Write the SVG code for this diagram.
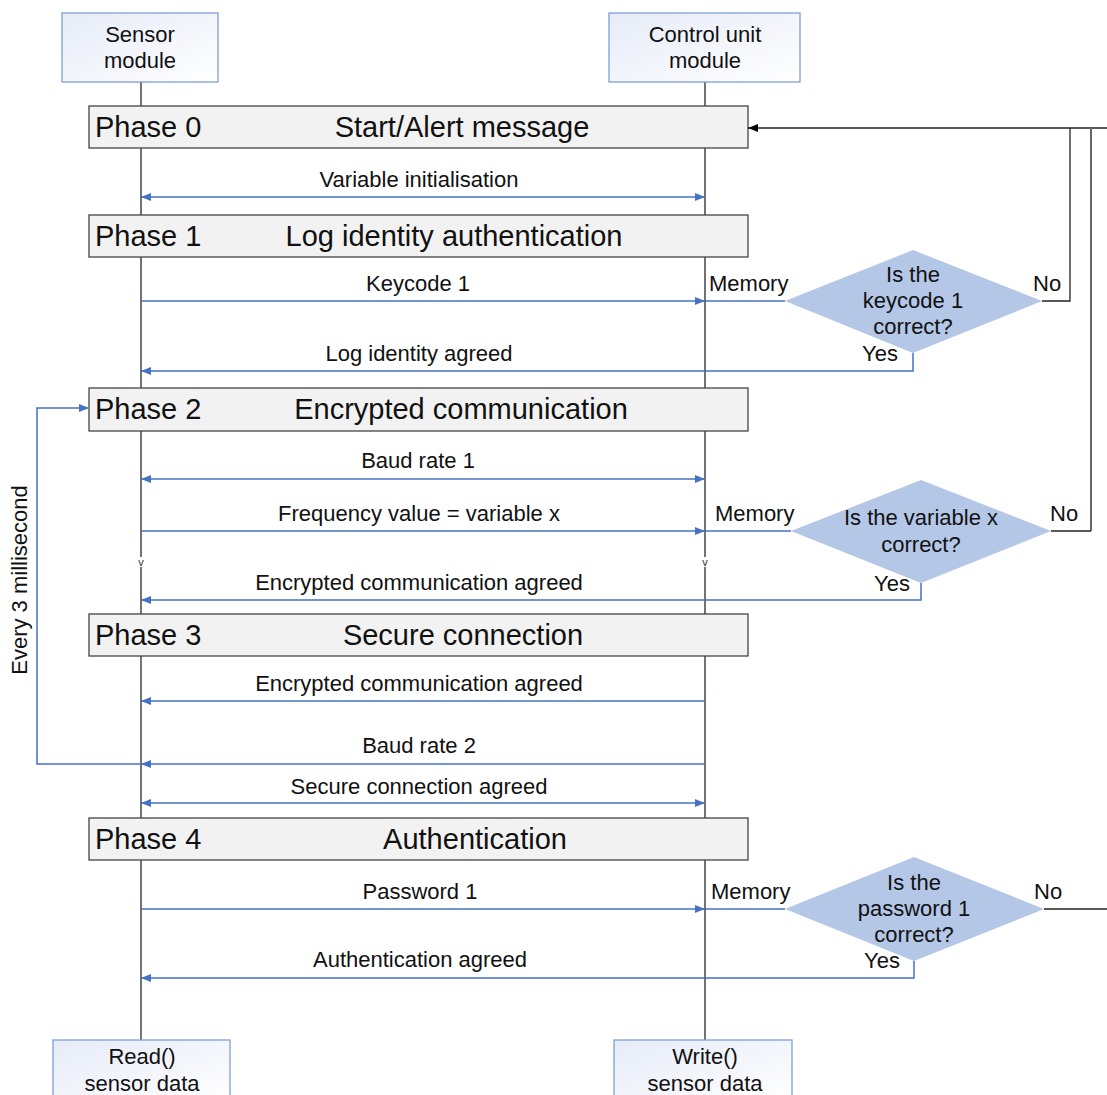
<svg xmlns="http://www.w3.org/2000/svg" width="1107" height="1095" viewBox="0 0 1107 1095">
  <defs>
    <linearGradient id="boxFill" x1="0" y1="0" x2="1" y2="1">
      <stop offset="0" stop-color="#e6ebf7"/>
      <stop offset="1" stop-color="#ffffff"/>
    </linearGradient>
    <marker id="arrBlue" viewBox="0 0 10 10" refX="10" refY="5" markerWidth="10" markerHeight="10" markerUnits="userSpaceOnUse" orient="auto-start-reverse">
      <path d="M0,1 L10,5 L0,9 Z" fill="#4472c4"/>
    </marker>
    <marker id="arrBlack" viewBox="0 0 10 10" refX="10" refY="5" markerWidth="10" markerHeight="10" markerUnits="userSpaceOnUse" orient="auto-start-reverse">
      <path d="M0,1 L10,5 L0,9 Z" fill="#000000"/>
    </marker>
  </defs>
  <style>
    text { font-family: "Liberation Sans", Arial, sans-serif; fill: #111; }
    .lbl { font-size: 22px; text-anchor: middle; }
    .lft { font-size: 22px; }
    .ph { font-size: 29px; }
    .phc { font-size: 29px; text-anchor: middle; }
    .tiny { font-size: 11px; text-anchor: middle; fill: #333; }
    .module { fill: url(#boxFill); stroke: #7f9fd6; stroke-width: 1.3; }
    .phase { fill: #f2f2f2; stroke: #444; stroke-width: 1.3; }
    .life { stroke: #444; stroke-width: 1.5; fill: none; }
    .msg { stroke: #4472c4; stroke-width: 1.5; fill: none; }
    .back { stroke: #222; stroke-width: 1.3; fill: none; }
    .gray { stroke: #666; stroke-width: 2; fill: none; }
    .dia { fill: #b4c7e7; stroke: none; }
  </style>

  <!-- lifelines -->
  <g id="lifelines">
    <line class="life" x1="141" y1="82" x2="141" y2="1040"/>
    <line class="life" x1="705" y1="82" x2="705" y2="1040"/>
  </g>

  <!-- participants -->
  <g id="sensor-module">
    <rect class="module" x="62" y="13" width="156" height="69"/>
    <text class="lbl" x="140" y="42">Sensor</text>
    <text class="lbl" x="140" y="68">module</text>
  </g>
  <g id="control-unit-module">
    <rect class="module" x="609" y="13" width="191" height="69"/>
    <text class="lbl" x="705" y="42">Control unit</text>
    <text class="lbl" x="705" y="68">module</text>
  </g>
  <g id="read-sensor-data">
    <rect class="module" x="53" y="1040" width="177" height="60"/>
    <text class="lbl" x="142" y="1064">Read()</text>
    <text class="lbl" x="142" y="1091">sensor data</text>
  </g>
  <g id="write-sensor-data">
    <rect class="module" x="614" y="1040" width="178" height="60"/>
    <text class="lbl" x="705" y="1064">Write()</text>
    <text class="lbl" x="705" y="1091">sensor data</text>
  </g>

  <!-- phase bars -->
  <g id="phase-0">
    <rect class="phase" x="89" y="106" width="659" height="42"/>
    <text class="ph" x="95" y="137">Phase 0</text>
    <text class="phc" x="462" y="137">Start/Alert message</text>
  </g>
  <g id="phase-1">
    <rect class="phase" x="89" y="215" width="659" height="42"/>
    <text class="ph" x="95" y="246">Phase 1</text>
    <text class="phc" x="454" y="246">Log identity authentication</text>
  </g>
  <g id="phase-2">
    <rect class="phase" x="89" y="388" width="659" height="43"/>
    <text class="ph" x="95" y="419">Phase 2</text>
    <text class="phc" x="461" y="419">Encrypted communication</text>
  </g>
  <g id="phase-3">
    <rect class="phase" x="89" y="614" width="659" height="42"/>
    <text class="ph" x="95" y="645">Phase 3</text>
    <text class="phc" x="463" y="645">Secure connection</text>
  </g>
  <g id="phase-4">
    <rect class="phase" x="89" y="818" width="659" height="42"/>
    <text class="ph" x="95" y="849">Phase 4</text>
    <text class="phc" x="475" y="849">Authentication</text>
  </g>

  <!-- decisions -->
  <g id="check-keycode">
    <polygon class="dia" points="785,301 913,250 1042,301 913,353"/>
    <text class="lbl" x="913" y="282">Is the</text>
    <text class="lbl" x="913" y="308">keycode 1</text>
    <text class="lbl" x="913" y="334">correct?</text>
  </g>
  <g id="check-variable">
    <polygon class="dia" points="791,531 921,480 1051,531 921,583"/>
    <text class="lbl" x="921" y="525">Is the variable x</text>
    <text class="lbl" x="921" y="552">correct?</text>
  </g>
  <g id="check-password">
    <polygon class="dia" points="785,909 914,857 1044,909 914,961"/>
    <text class="lbl" x="914" y="890">Is the</text>
    <text class="lbl" x="914" y="916">password 1</text>
    <text class="lbl" x="914" y="942">correct?</text>
  </g>

  <!-- connectors -->
  <g id="connectors">
    <!-- phase 0 -->
    <line class="msg" x1="141" y1="197" x2="705" y2="197" marker-start="url(#arrBlue)" marker-end="url(#arrBlue)"/>
    <!-- phase 1 -->
    <line class="msg" x1="141" y1="301" x2="705" y2="301" marker-end="url(#arrBlue)"/>
    <line class="msg" x1="705" y1="301" x2="785" y2="301"/>
    <polyline class="msg" points="913,353 913,371 141,371" marker-end="url(#arrBlue)"/>
    <!-- phase 2 -->
    <line class="msg" x1="141" y1="479" x2="705" y2="479" marker-start="url(#arrBlue)" marker-end="url(#arrBlue)"/>
    <line class="msg" x1="141" y1="531" x2="705" y2="531" marker-end="url(#arrBlue)"/>
    <line class="msg" x1="705" y1="531" x2="791" y2="531"/>
    <polyline class="msg" points="921,583 921,600 141,600" marker-end="url(#arrBlue)"/>
    <!-- phase 3 -->
    <line class="msg" x1="705" y1="701" x2="141" y2="701" marker-end="url(#arrBlue)"/>
    <line class="msg" x1="705" y1="764" x2="141" y2="764" marker-end="url(#arrBlue)"/>
    <polyline class="msg" points="141,764 37,764 37,408 89,408" marker-end="url(#arrBlue)"/>
    <line class="msg" x1="141" y1="803" x2="705" y2="803" marker-start="url(#arrBlue)" marker-end="url(#arrBlue)"/>
    <!-- phase 4 -->
    <line class="msg" x1="141" y1="909" x2="705" y2="909" marker-end="url(#arrBlue)"/>
    <line class="msg" x1="705" y1="909" x2="785" y2="909"/>
    <polyline class="msg" points="914,961 914,978 141,978" marker-end="url(#arrBlue)"/>
    <!-- "No" branches back to phase 0 -->
    <line class="back" x1="1107" y1="128" x2="748" y2="128" marker-end="url(#arrBlack)"/>
    <polyline class="back" points="1042,301 1070,301 1070,128"/>
    <line class="gray" x1="1091" y1="128" x2="1091" y2="531"/>
    <polyline class="back" points="1051,531 1091,531"/>
    <line class="back" x1="1044" y1="909" x2="1107" y2="909"/>
  </g>

  <!-- message labels -->
  <g id="labels">
    <text class="lbl" x="419" y="187">Variable initialisation</text>
    <text class="lbl" x="418" y="291">Keycode 1</text>
    <text class="lbl" x="419" y="361">Log identity agreed</text>
    <text class="lbl" x="418" y="468">Baud rate 1</text>
    <text class="lbl" x="419" y="521">Frequency value = variable x</text>
    <text class="lbl" x="419" y="590">Encrypted communication agreed</text>
    <text class="lbl" x="419" y="691">Encrypted communication agreed</text>
    <text class="lbl" x="419" y="753">Baud rate 2</text>
    <text class="lbl" x="419" y="794">Secure connection agreed</text>
    <text class="lbl" x="420" y="899">Password 1</text>
    <text class="lbl" x="420" y="967">Authentication agreed</text>

    <text class="lft" x="709" y="291">Memory</text>
    <text class="lft" x="1033" y="291">No</text>
    <text class="lft" x="862" y="361">Yes</text>
    <text class="lft" x="715" y="521">Memory</text>
    <text class="lft" x="1050" y="521">No</text>
    <text class="lft" x="874" y="591">Yes</text>
    <text class="lft" x="711" y="899">Memory</text>
    <text class="lft" x="1034" y="899">No</text>
    <text class="lft" x="864" y="968">Yes</text>

    <text class="lbl" transform="translate(27,580) rotate(-90)">Every 3 millisecond</text>

    <rect x="137" y="557" width="8" height="10" fill="#fff"/>
    <rect x="701" y="557" width="8" height="10" fill="#fff"/>
    <text class="tiny" x="141" y="566">v</text>
    <text class="tiny" x="705" y="566">v</text>
  </g>
</svg>
